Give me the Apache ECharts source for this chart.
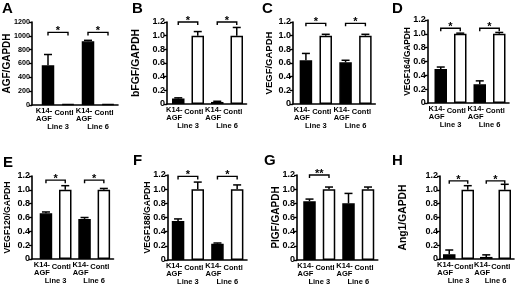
<!DOCTYPE html>
<html><head><meta charset="utf-8">
<script src="https://cdn.jsdelivr.net/npm/echarts@6/dist/echarts.min.js"></script>
<style>html,body{margin:0;padding:0;background:#fff}#c{width:520px;height:286px}</style>
</head><body><div id="c"></div>
<script>
// ---------- data ----------
const barCategories = ['K14-\nAGF', 'Contl', 'K14-\nAGF', 'Contl'];
const lineCategories = ['Line 3', 'Line 6'];
const panelLetters = ['A', 'B', 'C', 'D', 'E', 'F', 'G', 'H'];
const yAxisNames = ['AGF/GAPDH', 'bFGF/GAPDH', 'VEGF/GAPDH', 'VEGF164/GAPDH',
                    'VEGF120/GAPDH', 'VEGF188/GAPDH', 'PlGF/GAPDH', 'Ang1/GAPDH'];
const yMaxes = [1200, 1.2, 1.2, 1.2, 1.2, 1.2, 1.2, 1.2];
const yIntervals = [200, 0.2, 0.2, 0.2, 0.2, 0.2, 0.2, 0.2];

const agfMean     = [575, 12, 920, 12];     const agfErr     = [155, 0, 15, 0];
const bfgfMean    = [0.08, 1.0, 0.03, 1.0]; const bfgfErr    = [0.01, 0.06, 0.01, 0.12];
const vegfMean    = [0.64, 1.0, 0.61, 1.0]; const vegfErr    = [0.10, 0.02, 0.03, 0.02];
const vegf164Mean = [0.49, 1.0, 0.27, 1.0]; const vegf164Err = [0.03, 0.01, 0.05, 0.02];
const vegf120Mean = [0.66, 1.0, 0.58, 1.0]; const vegf120Err = [0.02, 0.06, 0.02, 0.02];
const vegf188Mean = [0.55, 1.0, 0.23, 1.0]; const vegf188Err = [0.03, 0.10, 0.01, 0.06];
const plgfMean    = [0.83, 1.0, 0.80, 1.0]; const plgfErr    = [0.03, 0.03, 0.14, 0.03];
const ang1Mean    = [0.07, 1.0, 0.03, 1.0]; const ang1Err    = [0.06, 0.06, 0.03, 0.08];

// significance brackets: [fromIndex, toIndex, height], marks
const agfSig     = [[0, 1, 1050], [2, 3, 1050]];  const agfMarks     = ['*', '*'];
const bfgfSig    = [[0, 1, 1.2], [2, 3, 1.2]];    const bfgfMarks    = ['*', '*'];
const vegfSig    = [[0, 1, 1.18], [2, 3, 1.18]];  const vegfMarks    = ['*', '*'];
const vegf164Sig = [[0, 1, 1.08], [2, 3, 1.08]];  const vegf164Marks = ['*', '*'];
const vegf120Sig = [[0, 1, 1.14], [2, 3, 1.14]];  const vegf120Marks = ['*', '*'];
const vegf188Sig = [[0, 1, 1.18], [2, 3, 1.18]];  const vegf188Marks = ['*', '*'];
const plgfSig    = [[0, 1, 1.2]];                 const plgfMarks    = ['**'];
const ang1Sig    = [[0, 1, 1.13], [2, 3, 1.13]];  const ang1Marks    = ['*', '*'];

const means = [agfMean, bfgfMean, vegfMean, vegf164Mean, vegf120Mean, vegf188Mean, plgfMean, ang1Mean];
const errs  = [agfErr, bfgfErr, vegfErr, vegf164Err, vegf120Err, vegf188Err, plgfErr, ang1Err];
const sigs  = [agfSig, bfgfSig, vegfSig, vegf164Sig, vegf120Sig, vegf188Sig, plgfSig, ang1Sig];
const marks = [agfMarks, bfgfMarks, vegfMarks, vegf164Marks, vegf120Marks, vegf188Marks, plgfMarks, ang1Marks];

// ---------- layout ----------
const layout = [
  {col: 0,   axisX: 32,   left: 38,    width: 80,   top: 22,  y0: 105, nameGap: 20,   nameSize: 10,   tickSize: 7.2, lx: 2, ly: 1},
  {col: 130, axisX: 37,   left: 38.5,  width: 78,   top: 22,  y0: 104, nameGap: 25,   nameSize: 10.5, tickSize: 9,   lx: 2, ly: 1},
  {col: 260, axisX: 33,   left: 36,    width: 79.3, top: 22,  y0: 104, nameGap: 19,   nameSize: 9.5,  tickSize: 9,   lx: 2, ly: 1},
  {col: 390, axisX: 37.7, left: 41,    width: 78,   top: 20,  y0: 103, nameGap: 16,   nameSize: 8.3,  tickSize: 9,   lx: 2, ly: 1},
  {col: 0,   axisX: 32,   left: 36.3,  width: 77.2, top: 176, y0: 259, nameGap: 19.5, nameSize: 8.7,  tickSize: 9,   lx: 3, ly: 155},
  {col: 130, axisX: 37.7, left: 38.2,  width: 78.8, top: 175, y0: 260, nameGap: 15.7, nameSize: 8.7,  tickSize: 9,   lx: 3, ly: 153},
  {col: 260, axisX: 37,   left: 39.75, width: 78,   top: 175, y0: 260, nameGap: 15.7, nameSize: 10,   tickSize: 9,   lx: 4, ly: 153},
  {col: 390, axisX: 50,   left: 50,    width: 74,   top: 176, y0: 259, nameGap: 31.7, nameSize: 10.3, tickSize: 9,   lx: 2, ly: 153}
];
const FONT = "'Liberation Sans', Arial, Helvetica, sans-serif";
const labelFont = {fontFamily: FONT, fontWeight: 'bold', fontSize: 7.5, color: '#000'};

const grid = [], xAxis = [], yAxis = [], series = [], title = [];
layout.forEach((L, p) => {
  const right = L.left + L.width;
  const gBar = grid.length;
  grid.push({left: L.col + L.left, top: L.top, width: L.width, height: L.y0 - L.top, outerBoundsMode: 'none'});
  const gFrame = grid.length;
  grid.push({left: L.col + L.axisX, top: L.top, width: right - L.axisX, height: L.y0 - L.top, outerBoundsMode: 'none'});

  const xBar = xAxis.length;
  xAxis.push({
    type: 'category', gridIndex: gBar, position: 'bottom', data: barCategories,
    axisLine: {show: false}, axisTick: {show: false},
    axisLabel: Object.assign({interval: 0, margin: 2.5, verticalAlign: 'top', lineHeight: 7.5,
      padding: [0, 8, 0, 0],
      formatter: v => v.indexOf('\n') < 0 ? '{c|' + v + '}' : v,
      rich: {c: Object.assign({padding: [3.8, 0, 0, 0], lineHeight: 7.5}, labelFont)}}, labelFont)
  });
  xAxis.push({
    type: 'category', gridIndex: gBar, position: 'bottom', data: lineCategories,
    axisLine: {show: false}, axisTick: {show: false},
    axisLabel: Object.assign({interval: 0, margin: 18, verticalAlign: 'top', lineHeight: 8}, labelFont)
  });
  xAxis.push({
    type: 'value', gridIndex: gFrame, position: 'bottom', min: 0, max: 1,
    axisLine: {show: true, lineStyle: {color: '#000', width: 1.6}},
    axisTick: {show: false}, axisLabel: {show: false}, splitLine: {show: false}
  });

  const yBar = yAxis.length;
  yAxis.push({
    type: 'value', gridIndex: gBar, min: 0, max: yMaxes[p], interval: yIntervals[p],
    name: yAxisNames[p], nameLocation: 'middle', nameGap: L.nameGap + (L.left - L.axisX),
    nameTextStyle: {fontFamily: FONT, fontWeight: 'bold', fontSize: L.nameSize, color: '#000'},
    axisLine: {show: false}, axisTick: {show: false}, axisLabel: {show: false}, splitLine: {show: false}
  });
  yAxis.push({
    type: 'value', gridIndex: gFrame, min: 0, max: yMaxes[p], interval: yIntervals[p],
    axisLine: {show: true, lineStyle: {color: '#000', width: 1.6}},
    axisTick: {show: true, inside: false, length: 3, lineStyle: {color: '#000', width: 1.4}},
    axisLabel: {margin: 2, fontFamily: FONT, fontWeight: 'bold', fontSize: L.tickSize, color: '#000',
      formatter: v => v === 0 ? '0' : (yMaxes[p] > 10 ? String(v) : v.toFixed(1))},
    splitLine: {show: false}
  });

  series.push({
    type: 'bar', xAxisIndex: xBar, yAxisIndex: yBar, barWidth: 12.5,
    data: means[p],
    itemStyle: {
      color: prm => prm.dataIndex % 2 ? '#fff' : '#000',
      borderColor: '#000', borderWidth: 1.5
    },
    z: 2
  });
  series.push({
    type: 'custom', xAxisIndex: xBar, yAxisIndex: yBar, z: 5,
    data: means[p].map((m, i) => [i, m, errs[p][i]]),
    encode: {x: 0, y: 1},
    renderItem: (params, api) => {
      const i = api.value(0), m = api.value(1), e = api.value(2);
      if (!e) return null;
      const a = api.coord([i, m]), b = api.coord([i, m + e]);
      const st = {stroke: '#000', lineWidth: 1.5};
      return {type: 'group', children: [
        {type: 'line', shape: {x1: a[0], y1: a[1], x2: b[0], y2: b[1]}, style: st},
        {type: 'line', shape: {x1: b[0] - 4, y1: b[1], x2: b[0] + 4, y2: b[1]}, style: st}
      ]};
    }
  });
  series.push({
    type: 'custom', xAxisIndex: xBar, yAxisIndex: yBar, z: 5,
    data: sigs[p],
    encode: {x: [0, 1], y: 2},
    renderItem: (params, api) => {
      const h = api.value(2);
      const a = api.coord([api.value(0), h]), b = api.coord([api.value(1), h]);
      return {type: 'group', children: [
        {type: 'polyline', shape: {points: [[a[0], a[1] + 3], a, b, [b[0], b[1] + 3]]},
          style: {stroke: '#000', lineWidth: 1.4, fill: null}},
        {type: 'text', style: {text: marks[p][params.dataIndex], x: (a[0] + b[0]) / 2, y: a[1] - 1,
          align: 'center', verticalAlign: 'middle', font: 'bold 11px ' + FONT, fill: '#000'}}
      ]};
    }
  });

  title.push({text: panelLetters[p], left: L.col + L.lx, top: L.ly, padding: 0,
    textStyle: {fontFamily: FONT, fontWeight: 'bold', fontSize: 15, color: '#000'}});
});

const chart = echarts.init(document.getElementById('c'), null, {renderer: 'canvas'});
chart.setOption({animation: false, backgroundColor: '#fff', title, grid, xAxis, yAxis, series});
</script></body></html>
